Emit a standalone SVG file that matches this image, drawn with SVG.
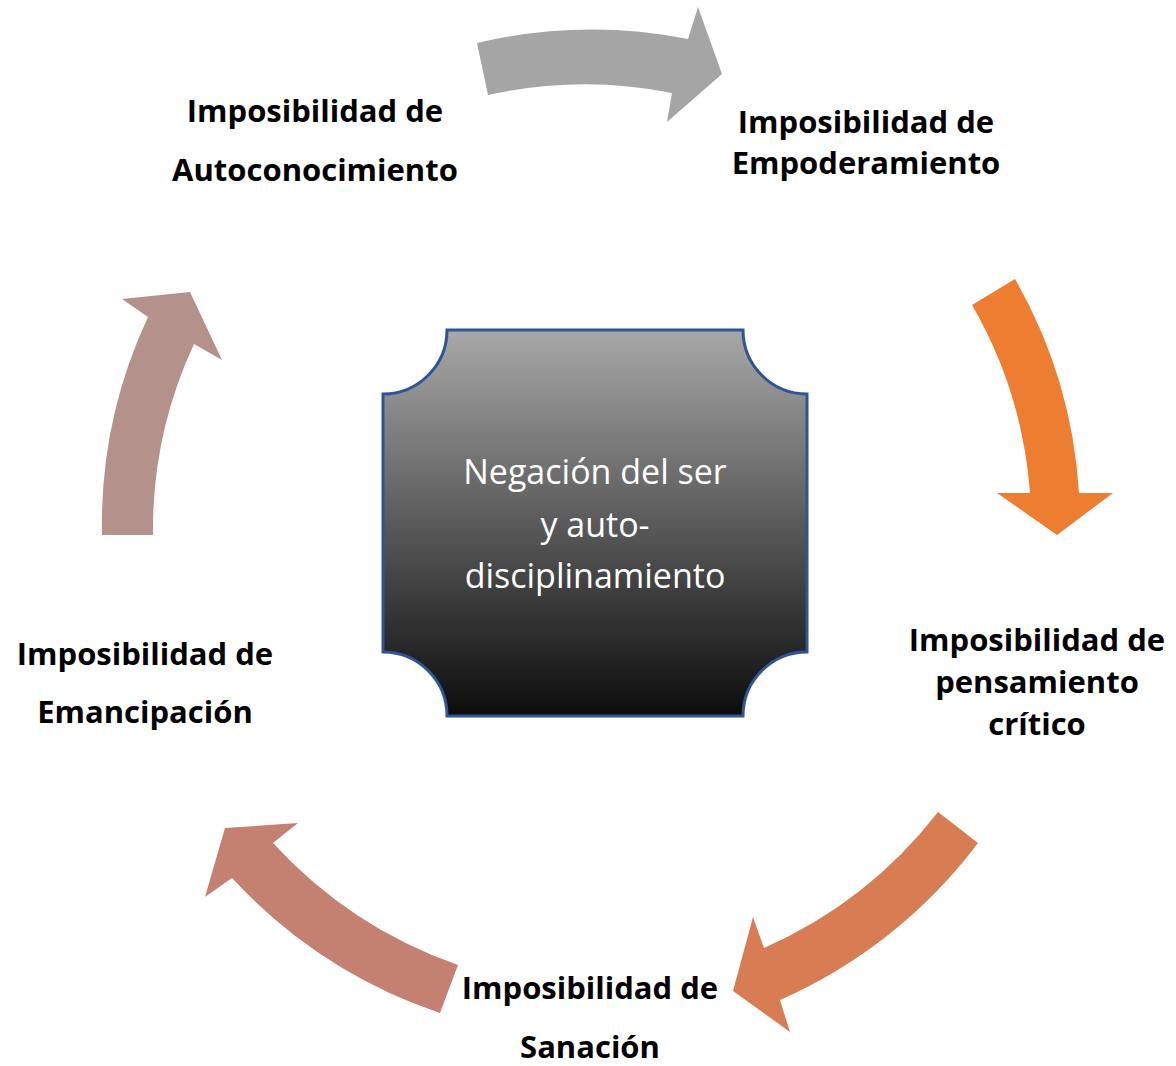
<svg xmlns="http://www.w3.org/2000/svg" width="1176" height="1066" viewBox="0 0 1176 1066">
<defs>
<linearGradient id="boxGrad" x1="0" y1="0" x2="0" y2="1">
<stop offset="0" stop-color="#A8A8A8"/>
<stop offset="0.5" stop-color="#5A5A5A"/>
<stop offset="1" stop-color="#0C0C0C"/>
</linearGradient>
<style>
.lbl{font-family:"Open Sans","Noto Sans","DejaVu Sans",sans-serif;font-weight:bold;font-size:31px;fill:#000;text-anchor:middle}
.ctr{font-family:"Open Sans","Noto Sans","DejaVu Sans",sans-serif;font-size:34px;fill:#fff;text-anchor:middle}
</style>
</defs>
<rect width="1176" height="1066" fill="#fff"/>
<g id="connectors">
<path id="arrow1" fill="#A5A5A5" d="M477,43 A500,500 0 0 1 688,39 L698,7 L722,74 L667,122 L672,93 A446,446 0 0 0 488,95 Z"/>
<path id="arrow2" fill="#ED7D31" d="M1015,279 A490,490 0 0 1 1079,493 L1113,493 L1057,535 L997,493 L1030,493 A440,440 0 0 0 972,305 Z"/>
<path id="arrow3" fill="#D87C53" d="M978,843 A500,500 0 0 1 780,1000 L790,1032 L733,991 L753,917 L764,948 A450,450 0 0 0 938,812 Z"/>
<path id="arrow4" fill="#C48070" d="M440,1013 A505,505 0 0 1 232,878 L205,897 L225,828 L298,823 L273,843 A455,455 0 0 0 458,965 Z"/>
<path id="arrow5" fill="#B4918A" d="M102,535 A490,490 0 0 1 148,317 L122,299 L190,292 L222,360 L194,344 A440,440 0 0 0 153,535 Z"/>
</g>
<g id="center">
<path d="M447,330 L743,330 A64,64 0 0 0 807,394 L807,652 A64,64 0 0 0 743,716 L447,716 A64,64 0 0 0 383,652 L383,394 A64,64 0 0 0 447,330 Z" fill="url(#boxGrad)" stroke="#2F5597" stroke-width="3"/>
<text class="ctr" x="595" y="484">Negación del ser</text>
<text class="ctr" x="595" y="537">y auto-</text>
<text class="ctr" x="595" y="588">disciplinamiento</text>
</g>
<g id="autoconocimiento">
<text class="lbl" x="315" y="122">Imposibilidad de</text>
<text class="lbl" x="315" y="181">Autoconocimiento</text>
</g>
<g id="empoderamiento">
<text class="lbl" x="866" y="133">Imposibilidad de</text>
<text class="lbl" x="866" y="174">Empoderamiento</text>
</g>
<g id="pensamiento">
<text class="lbl" x="1037" y="651">Imposibilidad de</text>
<text class="lbl" x="1037" y="693">pensamiento</text>
<text class="lbl" x="1037" y="735">crítico</text>
</g>
<g id="sanacion">
<text class="lbl" x="590" y="999">Imposibilidad de</text>
<text class="lbl" x="590" y="1058">Sanación</text>
</g>
<g id="emancipacion">
<text class="lbl" x="145" y="665">Imposibilidad de</text>
<text class="lbl" x="145" y="723">Emancipación</text>
</g>
</svg>
